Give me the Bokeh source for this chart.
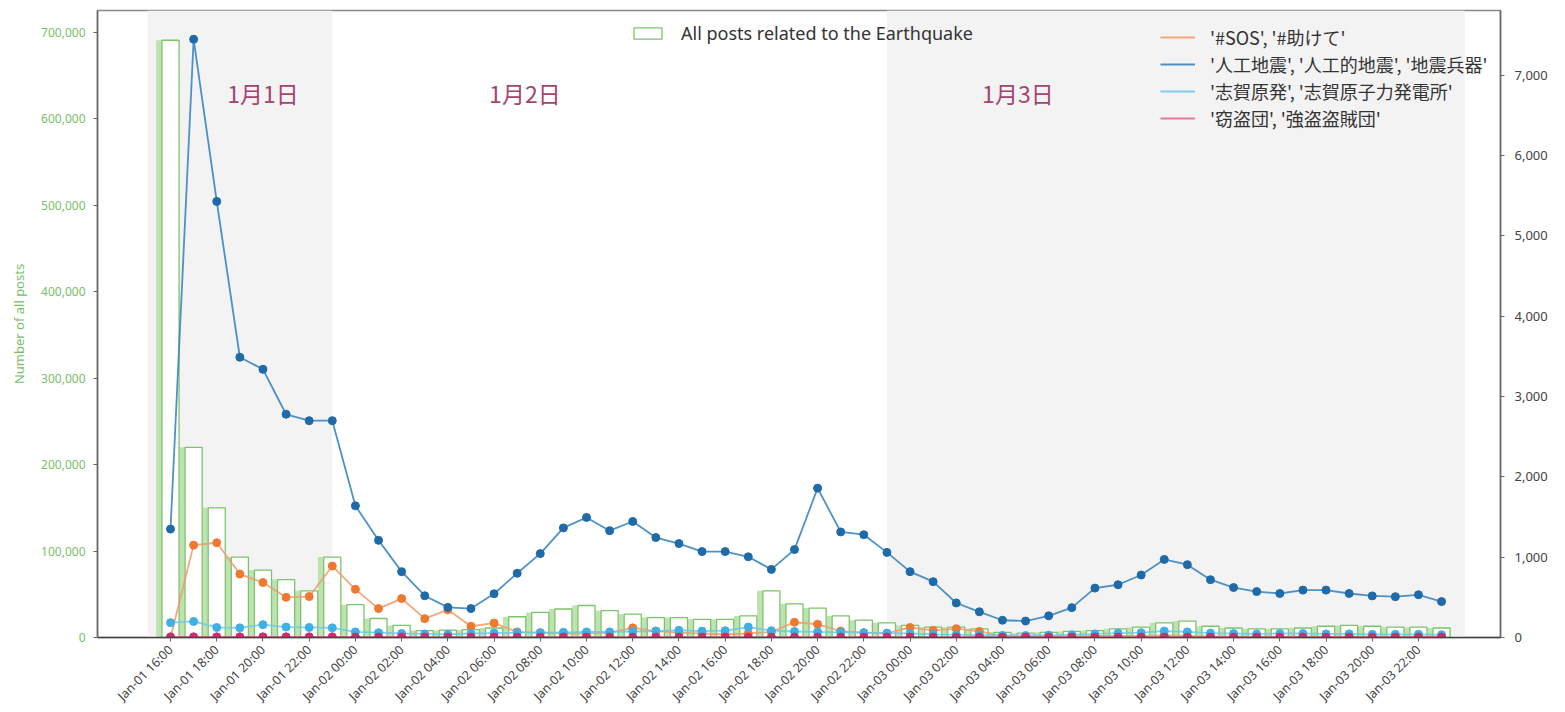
import numpy as np
import pandas as pd
from bokeh.plotting import figure
from bokeh.models import (Range1d, LinearAxis, FixedTicker, NumeralTickFormatter,
                          DatetimeTickFormatter, BoxAnnotation, Legend, LegendItem,
                          ColumnDataSource)
from bokeh.core.properties import value
from bokeh.embed import file_html
from bokeh.resources import INLINE

# ---------------- data ----------------
start_time = "2024-01-01 16:00"
n_hours = 56

all_posts = [691000, 220000, 150000, 93000, 78000, 67000, 54000, 93000,
             38000, 22000, 14000, 8000, 8500, 9000, 11000, 24000,
             29000, 33000, 37000, 31000, 27000, 23000, 23000, 21000,
             21000, 25000, 54000, 39000, 34000, 25000, 20000, 17000,
             14000, 12000, 12000, 10000, 6000, 5000, 6000, 7000,
             8000, 10000, 12000, 17000, 19000, 13000, 11000, 10000,
             10000, 11000, 13000, 14000, 13000, 12000, 12000, 11000]

sos = [0, 1150, 1180, 790, 685, 500, 510, 890,
       600, 360, 485, 235, 345, 140, 180, 70,
       60, 50, 50, 60, 120, 80, 60, 50,
       40, 50, 70, 190, 165, 80, 60, 50,
       125, 90, 110, 75, 20, 10, 15, 15,
       20, 20, 20, 25, 20, 15, 10, 10,
       10, 10, 10, 10, 10, 10, 10, 10]

artificial_quake = [1350, 7450, 5430, 3490, 3340, 2780, 2700, 2700,
                    1640, 1210, 820, 520, 375, 360, 545, 800,
                    1045, 1365, 1495, 1330, 1445, 1245, 1170, 1070,
                    1070, 1005, 848, 1095, 1860, 1315, 1280, 1060,
                    820, 695, 430, 320, 215, 205, 270, 372,
                    615, 657, 778, 972, 907, 720, 622, 572,
                    548, 590, 590, 548, 518, 508, 532, 447]

shika_npp = [185, 200, 125, 120, 160, 130, 125, 120,
             70, 60, 50, 45, 40, 50, 55, 60,
             60, 65, 70, 70, 75, 80, 90, 80,
             85, 130, 85, 75, 70, 65, 60, 55,
             50, 40, 35, 30, 25, 25, 30, 35,
             45, 55, 60, 80, 70, 55, 50, 45,
             50, 50, 45, 45, 40, 40, 40, 35]

theft_gang = [8, 8, 8, 8, 8, 8, 8, 8,
              6, 6, 6, 5, 5, 5, 5, 5,
              5, 5, 5, 5, 5, 5, 5, 5,
              5, 5, 5, 5, 5, 5, 5, 5,
              5, 5, 5, 5, 5, 5, 5, 5,
              5, 5, 5, 5, 5, 5, 5, 5,
              5, 5, 5, 5, 5, 5, 5, 5]

series_labels = ["'#SOS', '#助けて'",
                 "'人工地震', '人工的地震', '地震兵器'",
                 "'志賀原発', '志賀原子力発電所'",
                 "'窃盗団', '強盗盗賊団'"]
bar_label = "All posts related to the Earthquake"

day_labels = ["1月1日", "1月2日", "1月3日"]
day_label_times = ["2024-01-01 20:00", "2024-01-02 07:20", "2024-01-03 04:40"]
day_label_y = [6780, 6780, 6780]

shade_spans = [("2024-01-01 15:00", "2024-01-01 23:00"),
               ("2024-01-02 23:00", "2024-01-04 00:00")]

left_ticks = [0, 100000, 200000, 300000, 400000, 500000, 600000, 700000]
right_ticks = [0, 1000, 2000, 3000, 4000, 5000, 6000, 7000]

# ---------------- helpers ----------------
HOUR = 3600 * 1000.0
EPOCH = pd.Timestamp("1970-01-01")


def ms(t):
    return (pd.Timestamp(t) - EPOCH) / pd.Timedelta("1ms")


times = pd.date_range(start_time, periods=n_hours, freq="h")
x = np.array([(t - EPOCH) / pd.Timedelta("1ms") for t in times])
x0 = x[0]

src = ColumnDataSource(dict(x=x, xs=x - 0.16 * HOUR, posts=all_posts, sos=sos,
                            art=artificial_quake, shika=shika_npp, theft=theft_gang))

p = figure(frame_width=1403, frame_height=627, output_backend="svg",
           toolbar_location=None, x_axis_type="datetime",
           x_range=Range1d(x0 - 3.16 * HOUR, x0 + 57.55 * HOUR),
           y_range=Range1d(0, 725400),
           min_border_left=97, min_border_right=60, min_border_top=10,
           min_border_bottom=60, background_fill_color="white",
           border_fill_color="white")
p.extra_y_ranges = {"right": Range1d(0, 7808)}
p.grid.visible = False
p.outline_line_color = "#8a8a8a"
p.outline_line_width = 1.5

for a, b in shade_spans:
    p.add_layout(BoxAnnotation(left=ms(a), right=ms(b), fill_color="#f3f3f3",
                               fill_alpha=1.0, line_color=None, level="underlay"))

# bars
p.vbar(x="xs", top="posts", width=0.92 * HOUR, source=src, fill_color="#bfe2b3",
       line_color=None)
bars = p.vbar(x="x", top="posts", width=0.74 * HOUR, source=src, fill_color="white",
              line_color="#7cc46a", line_width=1.3)

# lines
line_cols = ["sos", "art", "shika", "theft"]
line_colors = ["#f3996a", "#2f7fbd", "#6cc8ee", "#e0608e"]
marker_colors = ["#ee7a30", "#1f6aa8", "#3fb0e6", "#c8316c"]
line_renderers = []
for col, lc, mc in zip(line_cols, line_colors, marker_colors):
    r = p.line(x="x", y=col, source=src, line_color=lc, line_width=1.8,
               line_alpha=0.85, y_range_name="right")
    p.scatter(x="x", y=col, source=src, size=8, fill_color=mc, line_color=mc,
              y_range_name="right")
    line_renderers.append(r)

# day labels
p.text(x=[ms(t) for t in day_label_times], y=day_label_y, text=day_labels,
       y_range_name="right", text_align="center", text_baseline="middle",
       text_color="#a3456e", text_font_size="23px",
       text_font=value("Noto Sans CJK JP"))

# axes
tick_font = "Noto Sans"
p.yaxis.ticker = FixedTicker(ticks=left_ticks)
p.yaxis.formatter = NumeralTickFormatter(format="0,0")
p.yaxis.axis_label = "Number of all posts"
p.yaxis.axis_label_text_color = "#78bf68"
p.yaxis.axis_label_text_font_style = "normal"
p.yaxis.axis_label_text_font_size = "13px"
p.yaxis.axis_label_text_font = tick_font
p.yaxis.axis_label_standoff = 10
p.yaxis.major_label_text_color = "#78bf68"
p.yaxis.major_label_text_font_size = "12px"
p.yaxis.major_label_text_font = tick_font
p.yaxis.major_label_standoff = 8
p.yaxis.minor_tick_line_color = None
p.yaxis.axis_line_color = "#666666"
p.yaxis.axis_line_width = 1.5
p.yaxis.major_tick_line_color = "#666666"
p.yaxis.major_tick_out = 4
p.yaxis.major_tick_in = 0

ra = LinearAxis(y_range_name="right", ticker=FixedTicker(ticks=right_ticks),
                formatter=NumeralTickFormatter(format="0,0"))
ra.major_label_text_color = "#444444"
ra.major_label_text_font_size = "13px"
ra.major_label_text_font = tick_font
ra.major_label_standoff = 10
ra.minor_tick_line_color = None
ra.axis_line_color = "#666666"
ra.axis_line_width = 1.5
ra.major_tick_line_color = "#666666"
ra.major_tick_out = 4
ra.major_tick_in = 0
p.add_layout(ra, "right")

xt = [x0 + 2 * i * HOUR for i in range(28)]
p.xaxis.ticker = FixedTicker(ticks=xt)
fmt = "%b-%d %H:%M"
p.xaxis.formatter = DatetimeTickFormatter(milliseconds=fmt, seconds=fmt, minsec=fmt,
                                          minutes=fmt, hourmin=fmt, hours=fmt,
                                          days=fmt, months=fmt, years=fmt)
p.xaxis.major_label_orientation = np.pi / 4
p.xaxis.major_label_text_font_size = "12.5px"
p.xaxis.major_label_text_font = tick_font
p.xaxis.major_label_text_color = "#444444"
p.xaxis.major_label_standoff = 6
p.xaxis.minor_tick_line_color = None
p.xaxis.axis_line_color = "#444444"
p.xaxis.axis_line_width = 1.5
p.xaxis.major_tick_line_color = "#666666"
p.xaxis.major_tick_out = 4
p.xaxis.major_tick_in = 0

# legends
leg1 = Legend(items=[LegendItem(label=bar_label, renderers=[bars])],
              location=(533, 592), orientation="vertical",
              background_fill_alpha=0, border_line_color=None, padding=0, margin=0,
              glyph_width=35, glyph_height=14, label_standoff=16,
              label_text_font="Noto Sans", label_text_font_size="18px",
              label_text_color="#333333", label_height=20)
leg2 = Legend(items=[LegendItem(label=lbl, renderers=[r])
                     for lbl, r in zip(series_labels, line_renderers)],
              location=(1063, 506), orientation="vertical",
              background_fill_alpha=0, border_line_color=None, padding=0, margin=0,
              glyph_width=35, glyph_height=20, label_standoff=15, spacing=1,
              label_text_font="Noto Sans CJK JP", label_text_font_size="18px",
              label_text_color="#333333", label_height=20)
p.add_layout(leg1, "center")
p.add_layout(leg2, "center")

open("out.html", "w").write(file_html(p, INLINE))
